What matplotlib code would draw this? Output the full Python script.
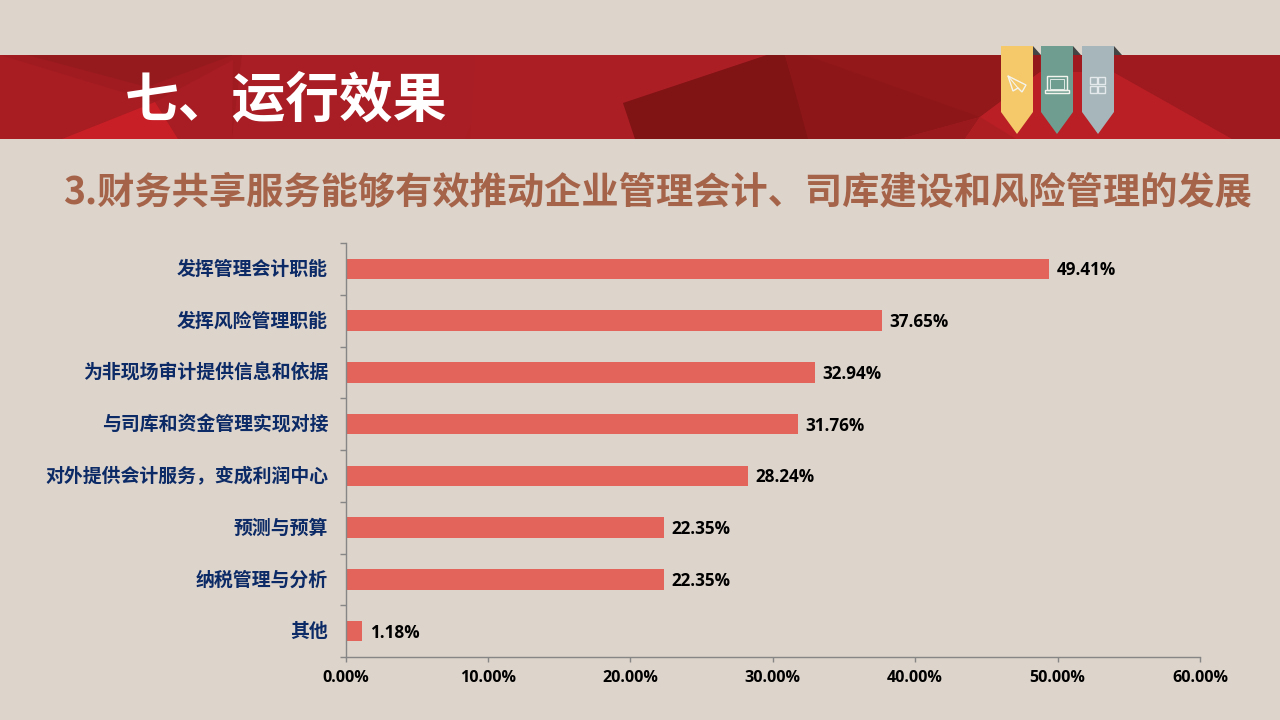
import matplotlib
matplotlib.use('Agg')
import matplotlib.pyplot as plt
from matplotlib.patches import Polygon, Rectangle
from matplotlib.ticker import FuncFormatter, MultipleLocator

categories = ['发挥管理会计职能', '发挥风险管理职能', '为非现场审计提供信息和依据', '与司库和资金管理实现对接',
              '对外提供会计服务，变成利润中心', '预测与预算', '纳税管理与分析', '其他']
values = [49.41, 37.65, 32.94, 31.76, 28.24, 22.35, 22.35, 1.18]
heading = '七、运行效果'
subtitle = '3.财务共享服务能够有效推动企业管理会计、司库建设和风险管理的发展'

BG = '#ddd4cb'
CJK = ['Noto Sans CJK SC', 'DejaVu Sans']
LATIN = ['Open Sans', 'DejaVu Sans']
plt.rcParams['font.family'] = CJK

fig = plt.figure(figsize=(12.8, 7.2), dpi=100, facecolor=BG)

# decoration layer in pixel coordinates
bg = fig.add_axes([0, 0, 1, 1], zorder=0)
bg.set_xlim(0, 1280); bg.set_ylim(720, 0); bg.axis('off')
bg.add_patch(Rectangle((0, 55), 1280, 84, fc='#a81d22', ec='none'))
polys = [
    ([(0, 55), (242, 55), (232, 139), (62, 139), (155, 102)], '#a01b20'),
    ([(27, 55), (233, 55), (147, 87)], '#951a1e'),
    ([(155, 102), (233, 60), (232, 139), (178, 139)], '#a81d23'),
    ([(62, 139), (155, 102), (178, 139)], '#c81f26'),
    ([(242, 55), (500, 55), (465, 139), (232, 139)], '#a81e24'),
    ([(470, 139), (475, 55), (770, 55), (623, 103), (635, 139)], '#aa1e24'),
    ([(785, 55), (1040, 55), (1040, 72), (980, 117), (810, 139)], '#931819'),
    ([(623, 103), (767, 55), (785, 55), (810, 139), (635, 139)], '#801314'),
    ([(785, 55), (805, 55), (980, 117), (900, 139), (808, 139)], '#8d1619'),
    ([(900, 139), (980, 117), (965, 139)], '#9a191d'),
    ([(1040, 55), (1280, 55), (1280, 139), (1232, 139), (1113, 72), (1040, 72)], '#9e1a1f'),
    ([(965, 139), (980, 117), (1040, 72), (1113, 72), (1232, 139)], '#b91f25'),
    ([(980, 117), (1016, 139), (965, 139)], '#ad1e23'),
]
for pts, c in polys:
    bg.add_patch(Polygon(pts, closed=True, fc=c, ec='none'))

for x0, c in zip([1001, 1041, 1082], ['#f5c869', '#6f9d90', '#a6b6ba']):
    bg.add_patch(Polygon([(x0 + 32, 46), (x0 + 40, 55), (x0 + 32, 55)], fc='#444444', ec='none'))
    bg.add_patch(Polygon([(x0, 46), (x0 + 32, 46), (x0 + 32, 112), (x0 + 16, 134), (x0, 112)], fc=c, ec='none'))

# ribbon icons
ic = dict(fill=False, ec='#f4f4ee', lw=1.0)
bg.add_patch(Polygon([(1008, 76), (1026, 85), (1022, 92), (1018, 88), (1013, 91)], closed=True, **ic))
bg.plot([1008, 1018], [76, 88], color='#f4f4ee', lw=0.8)
bg.add_patch(Rectangle((1047, 76), 20, 14, **ic))
bg.add_patch(Rectangle((1050, 78.5), 14, 10, fill=False, ec='#dfe9e5', lw=0.7))
bg.add_patch(Rectangle((1045, 90), 24, 3, **ic))
for dx, dy in [(0, 0), (8.5, 0), (0, 8.5), (8.5, 8.5)]:
    bg.add_patch(Rectangle((1089.5 + dx, 77 + dy), 7, 7, fill=False, ec='#e4eaeb', lw=1.0))

bg.text(125, 101, heading, color='white', fontsize=38.7, fontweight='bold', va='center', ha='left')
bg.text(63, 193, subtitle, color='#a5644a', fontsize=26.85, fontweight='bold', va='center', ha='left')

# chart
ax = fig.add_axes([345.5 / 1280, 1 - 657 / 720, (1200 - 345.5) / 1280, (657 - 243) / 720], zorder=1)
ax.patch.set_alpha(0)
pos = range(len(categories))
ax.barh(list(pos), values, height=0.4, color='#e2645a')
ax.set_ylim(len(categories) - 0.5, -0.5)
ax.set_xlim(0, 60)
ax.xaxis.set_major_locator(MultipleLocator(10))
ax.xaxis.set_major_formatter(FuncFormatter(lambda v, _: f'{v:.2f}%'))
ax.set_yticks([p - 0.5 for p in pos] + [len(categories) - 0.5])
ax.set_yticklabels([])
ax.tick_params(axis='y', length=4.5, width=1, color='#868686', direction='out')
ax.tick_params(axis='x', length=3.5, width=1, color='#868686', direction='out', pad=5.5)
for s in ['top', 'right']:
    ax.spines[s].set_visible(False)
for s in ['left', 'bottom']:
    ax.spines[s].set_color('#868686')
    ax.spines[s].set_linewidth(1)
for lab in ax.get_xticklabels():
    lab.set_fontsize(11.6); lab.set_fontweight('bold'); lab.set_color('black'); lab.set_family(LATIN)
for p, c, v in zip(pos, categories, values):
    ax.annotate(c, (0, p), xytext=(-12.5, -0.5), textcoords='offset points', ha='right', va='center',
                fontsize=13.6, fontweight='bold', color='#0b2a66')
    ax.annotate(f'{v:.2f}%', (v, p), xytext=(5.5, -1), textcoords='offset points', ha='left', va='center',
                fontsize=12.3, fontweight='bold', color='black', family=LATIN)

fig.savefig('out.png', dpi=100, facecolor=BG)
